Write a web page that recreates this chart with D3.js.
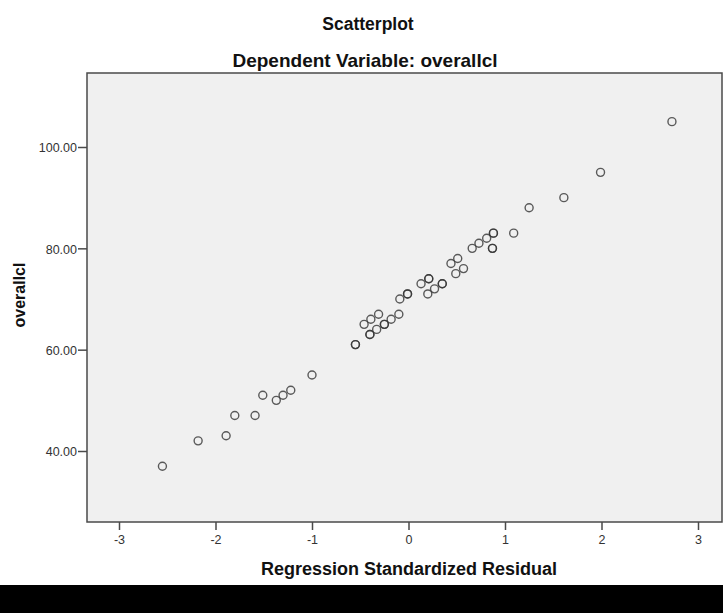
<!DOCTYPE html>
<html>
<head>
<meta charset="utf-8">
<script src="https://cdn.jsdelivr.net/npm/d3@7"></script>
<style>
  body { margin: 0; background: #fff; }
  svg { display: block; font-family: "Liberation Sans", Arial, sans-serif; }
</style>
</head>
<body>
<svg id="chart" width="723" height="613"></svg>
<script>
// standardized residual vs overallcl (duplicates = darker overlapping circles)
var residuals = [2.73, 1.99, 1.61, 1.25, 1.09, 0.88, 0.88, 0.81, 0.73, 0.66, 0.87, 0.87,
  0.51, 0.44, 0.57, 0.49, 0.21, 0.21, 0.13, 0.35, 0.35, 0.27, 0.20, -0.01, -0.01, -0.09,
  -0.31, -0.10, -0.39, -0.18, -0.46, -0.25, -0.25, -0.33, -0.40, -0.40, -0.55, -0.55,
  -1.00, -1.22, -1.30, -1.37, -1.51, -1.80, -1.59, -1.89, -2.18, -2.55];
var overall = [105, 95, 90, 88, 83, 83, 83, 82, 81, 80, 80, 80,
  78, 77, 76, 75, 74, 74, 73, 73, 73, 72, 71, 71, 71, 70,
  67, 67, 66, 66, 65, 65, 65, 64, 63, 63, 61, 61,
  55, 52, 51, 50, 51, 47, 47, 43, 42, 37];
var xTicks = [-3, -2, -1, 0, 1, 2, 3];
var yTicks = [40, 60, 80, 100];

var svg = d3.select("#chart");
var pLeft = 87, pRight = 722, pTop = 73, pBottom = 522;

var x = d3.scaleLinear().domain([-3, 3]).range([119, 698]);
var y = d3.scaleLinear().domain([40, 100]).range([451, 147]);

svg.append("rect").attr("x", pLeft).attr("y", pTop)
  .attr("width", pRight - pLeft).attr("height", pBottom - pTop)
  .attr("fill", "#f0f0f0").attr("stroke", "#4a4a4a").attr("stroke-width", 1.5);

var xAxis = svg.append("g").attr("transform", "translate(0," + pBottom + ")")
  .call(d3.axisBottom(x).tickValues(xTicks).tickSize(8).tickPadding(5)
    .tickFormat(function(d) { return String(d); }));
var yAxis = svg.append("g").attr("transform", "translate(" + pLeft + ",0)")
  .call(d3.axisLeft(y).tickValues(yTicks).tickSize(9).tickPadding(1).tickFormat(d3.format(".2f")));
[xAxis, yAxis].forEach(function(a) {
  a.select(".domain").remove();
  a.selectAll(".tick line").attr("stroke", "#4a4a4a").attr("stroke-width", 1.5);
  a.selectAll(".tick text").attr("fill", "#333").style("font-size", "12.5px");
});
yAxis.selectAll(".tick text").attr("dy", "0.38em");

svg.append("g").selectAll("circle")
  .data(residuals.map(function(r, i) { return [r, overall[i]]; }))
  .enter().append("circle")
  .attr("cx", function(d) { return x(d[0]); })
  .attr("cy", function(d) { return y(d[1]); })
  .attr("r", 4)
  .attr("fill", "none")
  .attr("stroke", "#333")
  .attr("stroke-opacity", 0.8)
  .attr("stroke-width", 1.4);

function title(tx, ty, size, txt) {
  return svg.append("text").attr("x", tx).attr("y", ty).attr("text-anchor", "middle")
    .style("font-size", size).style("font-weight", "bold").attr("fill", "#111").text(txt);
}
title(368, 30, "17.5px", "Scatterplot");
title(365, 67, "19px", "Dependent Variable: overallcl");
title(409, 575, "18px", "Regression Standardized Residual");
title(0, 0, "16px", "overallcl").attr("transform", "translate(25,295) rotate(-90)");

svg.append("rect").attr("x", 0).attr("y", 585).attr("width", 723).attr("height", 28).attr("fill", "#000");
</script>
</body>
</html>
